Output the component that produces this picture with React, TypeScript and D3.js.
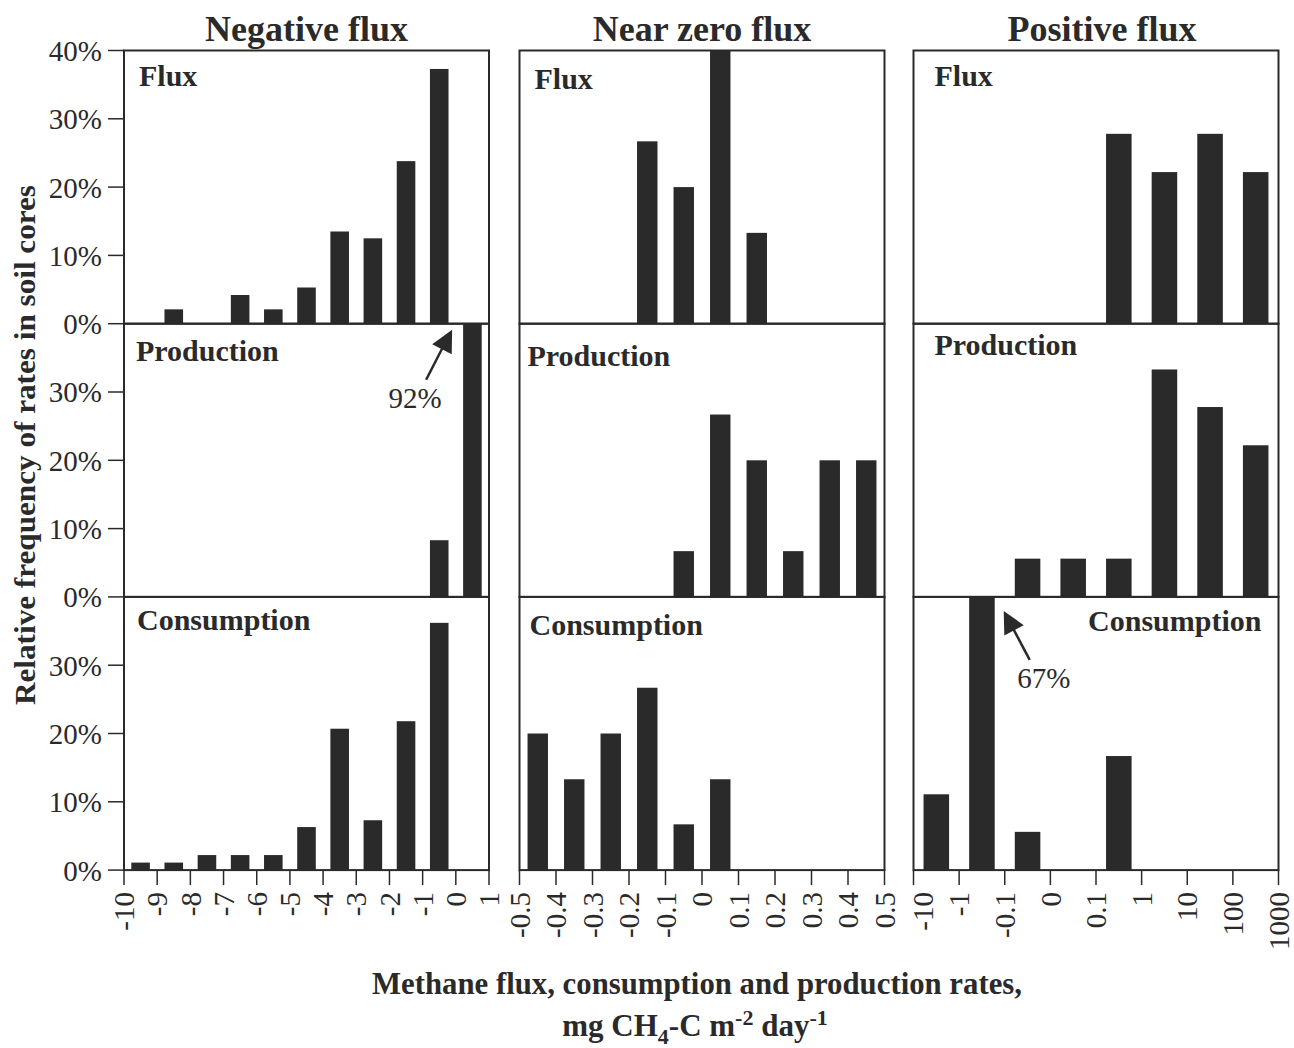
import * as d3 from 'd3'

// bin edges (tick labels) for each column
const negTicks = ['-10', '-9', '-8', '-7', '-6', '-5', '-4', '-3', '-2', '-1', '0', '1']
const nearTicks = ['-0.5', '-0.4', '-0.3', '-0.2', '-0.1', '0', '0.1', '0.2', '0.3', '0.4', '0.5']
const posTicks = ['-10', '-1', '-0.1', '0', '0.1', '1', '10', '100', '1000']

// relative frequency (%) per bin
const negFlux = [0, 2.1, 0, 4.2, 2.1, 5.3, 13.5, 12.5, 23.8, 37.3, 0]
const negProduction = [0, 0, 0, 0, 0, 0, 0, 0, 0, 8.3, 92]
const negConsumption = [1.1, 1.1, 2.2, 2.2, 2.2, 6.3, 20.7, 7.3, 21.8, 36.2, 0]

const nearFlux = [0, 0, 0, 26.7, 20, 40, 13.3, 0, 0, 0]
const nearProduction = [0, 0, 0, 0, 6.7, 26.7, 20, 6.7, 20, 20]
const nearConsumption = [20, 13.3, 20, 26.7, 6.7, 13.3, 0, 0, 0, 0]

const posFlux = [0, 0, 0, 0, 27.8, 22.2, 27.8, 22.2]
const posProduction = [0, 0, 5.6, 5.6, 5.6, 33.3, 27.8, 22.2]
const posConsumption = [11.1, 66.7, 5.6, 0, 16.7, 0, 0, 0]

const columnTitles = ['Negative flux', 'Near zero flux', 'Positive flux']
const rowNames = ['Flux', 'Production', 'Consumption']
const yTickValues = [0, 10, 20, 30, 40]

const columns = [
  { title: columnTitles[0], ticks: negTicks, rows: [negFlux, negProduction, negConsumption] },
  { title: columnTitles[1], ticks: nearTicks, rows: [nearFlux, nearProduction, nearConsumption] },
  { title: columnTitles[2], ticks: posTicks, rows: [posFlux, posProduction, posConsumption] },
]

// layout
const width = 1294
const height = 1048
const colLeft = [124, 519.5, 913.5]
const panelW = 365
const top0 = 50.5
const rowH = 273.2
const ink = '#2b2a2b'
const serif = '"Liberation Serif", "Times New Roman", Times, serif'

// panel label offsets [col][row] -> [dx, baseline dy]
const labelPos = [
  [[15, 35], [12, 37], [13, 33]],
  [[15, 38], [8, 42], [10, 38]],
  [[21, 35], [21, 31], [-17, 34]],
]

function arrowHead(x1: number, y1: number, x2: number, y2: number) {
  const a = Math.atan2(y2 - y1, x2 - x1)
  const len = 22
  const half = 11
  const bx = x2 - len * Math.cos(a)
  const by = y2 - len * Math.sin(a)
  const px = -Math.sin(a) * half
  const py = Math.cos(a) * half
  return `${x2},${y2} ${bx + px},${by + py} ${bx - px},${by - py}`
}

export default function App() {
  return (
    <svg
      width={width}
      height={height}
      style={{ position: 'absolute', left: 0, top: 0, background: '#fff' }}
      fontFamily={serif}
    >
      {columns.map((col, c) => {
        const left = colLeft[c]
        const n = col.ticks.length - 1
        const xBand = d3
          .scaleBand<number>()
          .domain(d3.range(n))
          .range([left, left + panelW])
          .paddingInner(0.44)
          .paddingOuter(0.22)
        const xTick = d3.scalePoint<string>().domain(col.ticks).range([left, left + panelW])
        const bottom = top0 + 3 * rowH
        return (
          <g key={col.title}>
            <text
              x={left + panelW / 2 + (c === 2 ? 6 : 0)}
              y={40.5}
              textAnchor="middle"
              fontSize={36}
              fontWeight="bold"
              fill={ink}
            >
              {col.title}
            </text>
            {col.rows.map((vals, r) => {
              const y = d3
                .scaleLinear()
                .domain([0, 40])
                .range([top0 + (r + 1) * rowH, top0 + r * rowH])
                .clamp(true)
              const [ldx, ldy] = labelPos[c][r]
              const rowTop = top0 + r * rowH
              return (
                <g key={rowNames[r]}>
                  {vals.map((v, i) =>
                    v > 0 ? (
                      <rect
                        key={i}
                        x={xBand(i)}
                        y={y(v)}
                        width={xBand.bandwidth()}
                        height={y(0) - y(v)}
                        fill={ink}
                      />
                    ) : null
                  )}
                  <rect
                    x={left}
                    y={rowTop}
                    width={panelW}
                    height={rowH}
                    fill="none"
                    stroke={ink}
                    strokeWidth={2}
                  />
                  <text
                    x={ldx < 0 ? left + panelW + ldx : left + ldx}
                    y={rowTop + ldy}
                    textAnchor={ldx < 0 ? 'end' : 'start'}
                    fontSize={30}
                    fontWeight="bold"
                    fill={ink}
                  >
                    {rowNames[r]}
                  </text>
                  {c === 0 &&
                    yTickValues
                      .filter((t) => r === 0 || t < 40)
                      .map((t) => (
                        <g key={t}>
                          <line x1={108} x2={left} y1={y(t)} y2={y(t)} stroke={ink} strokeWidth={1.5} />
                          <text
                            x={102}
                            y={y(t)}
                            dy="0.36em"
                            textAnchor="end"
                            fontSize={29}
                            fill={ink}
                          >
                            {t}%
                          </text>
                        </g>
                      ))}
                </g>
              )
            })}
            {col.ticks.map((t, i) => (
              <g key={t}>
                <line
                  x1={xTick(t)}
                  x2={xTick(t)}
                  y1={bottom}
                  y2={bottom + 15}
                  stroke={ink}
                  strokeWidth={1.5}
                />
                <text
                  transform={`translate(${(xTick(t) ?? 0) + (c === 2 && i === 0 ? 9 : 0)},${bottom + 22}) rotate(-90)`}
                  dy="0.35em"
                  textAnchor="end"
                  fontSize={29}
                  fill={ink}
                >
                  {t}
                </text>
              </g>
            ))}
          </g>
        )
      })}

      {/* 92% annotation: Negative flux / Production */}
      {(() => {
        const xb = d3
          .scaleBand<number>()
          .domain(d3.range(negTicks.length - 1))
          .range([colLeft[0], colLeft[0] + panelW])
          .paddingInner(0.44)
          .paddingOuter(0.22)
        const tipX = (xb(10) ?? 0) - 11
        const tipY = top0 + rowH + 6
        const tailX = tipX - 26
        const tailY = tipY + 50
        return (
          <g>
            <line x1={tailX} y1={tailY} x2={tipX - 8} y2={tipY + 15} stroke={ink} strokeWidth={2.5} />
            <polygon points={arrowHead(tailX, tailY, tipX, tipY)} fill={ink} />
            <text x={tailX - 11} y={tailY + 28} textAnchor="middle" fontSize={29} fill={ink}>
              {negProduction[10]}%
            </text>
          </g>
        )
      })()}

      {/* 67% annotation: Positive flux / Consumption */}
      {(() => {
        const xb = d3
          .scaleBand<number>()
          .domain(d3.range(posTicks.length - 1))
          .range([colLeft[2], colLeft[2] + panelW])
          .paddingInner(0.44)
          .paddingOuter(0.22)
        const tipX = (xb(1) ?? 0) + xb.bandwidth() + 9
        const tipY = top0 + 2 * rowH + 14
        const tailX = tipX + 26
        const tailY = tipY + 49
        return (
          <g>
            <line x1={tailX} y1={tailY} x2={tipX + 8} y2={tipY + 15} stroke={ink} strokeWidth={2.5} />
            <polygon points={arrowHead(tailX, tailY, tipX, tipY)} fill={ink} />
            <text x={tailX + 14} y={tailY + 28} textAnchor="middle" fontSize={29} fill={ink}>
              {Math.round(posConsumption[1])}%
            </text>
          </g>
        )
      })()}

      {/* axis titles */}
      <text
        transform="translate(35,445) rotate(-90)"
        textAnchor="middle"
        fontSize={30}
        fontWeight="bold"
        fill={ink}
        textLength={520}
        lengthAdjust="spacingAndGlyphs"
      >
        Relative frequency of rates in soil cores
      </text>
      <text
        x={697}
        y={994}
        textAnchor="middle"
        fontSize={31}
        fontWeight="bold"
        fill={ink}
        textLength={650}
        lengthAdjust="spacingAndGlyphs"
      >
        Methane flux, consumption and production rates,
      </text>
      <text x={695} y={1036} textAnchor="middle" fontSize={31} fontWeight="bold" fill={ink}>
        mg CH
        <tspan fontSize={22} dy={8}>4</tspan>
        <tspan dy={-8}>-C m</tspan>
        <tspan fontSize={22} dy={-11}>-2</tspan>
        <tspan dy={11}> day</tspan>
        <tspan fontSize={22} dy={-11}>-1</tspan>
      </text>
    </svg>
  )
}
